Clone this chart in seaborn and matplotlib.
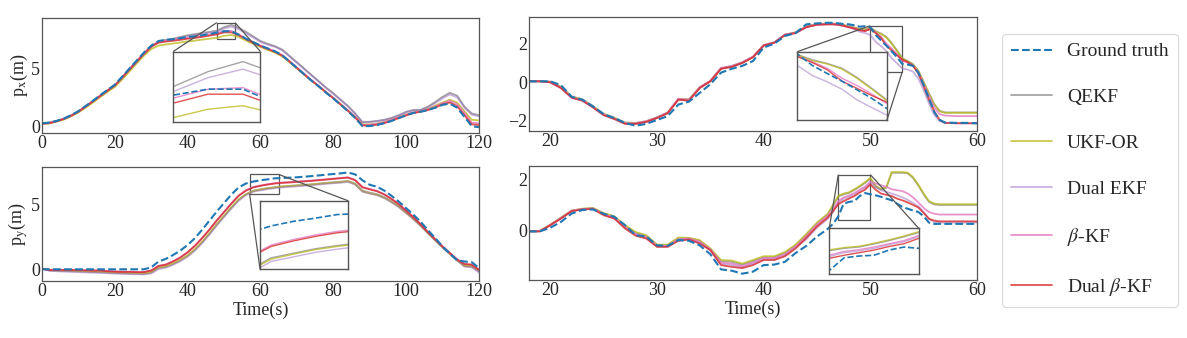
import matplotlib
matplotlib.use("Agg")
import matplotlib.pyplot as plt
import seaborn as sns
from mpl_toolkits.axes_grid1.inset_locator import mark_inset

# ---------------- data ----------------
labels = ["Ground truth", "QEKF", "UKF-OR", "Dual EKF", r"$\beta$-KF", r"Dual $\beta$-KF"]

t_left = list(range(0, 121, 2))
t_right = [18, 19, 20, 21, 22, 23, 24, 25, 26, 27, 28, 29, 30, 31, 32, 33, 34, 35, 36, 37,
           38, 39, 40, 41, 42, 43, 44, 45,
           46, 46.5, 47, 47.5, 48, 48.5, 49, 49.5, 50, 50.5,
           51, 51.5, 52, 52.5, 53, 53.5, 54, 54.5, 55, 55.5,
           56, 56.5, 57, 58, 59, 60]

# top-left : p_x over 0..120 s
px_L_gt = [0.25, 0.30, 0.45, 0.65, 0.95, 1.30, 1.75, 2.20, 2.70, 3.15,
           3.60, 4.30, 5.00, 5.70, 6.40, 7.00, 7.40, 7.50, 7.55, 7.65,
           7.75, 7.80, 7.90, 8.00, 8.13, 8.25, 8.25, 7.95, 7.60, 7.30,
           7.00, 6.75, 6.50, 6.15, 5.60, 5.05, 4.50, 3.95, 3.45, 2.90,
           2.40, 1.85, 1.30, 0.70, 0.00, 0.00, 0.10, 0.25, 0.45, 0.70,
           0.95, 1.15, 1.25, 1.40, 1.60, 1.85, 1.95, 1.60, 0.80, 0.00,
           -0.10]
px_L_qekf = [0.25, 0.30, 0.45, 0.65, 0.93, 1.28, 1.72, 2.18, 2.66, 3.12,
             3.57, 4.25, 4.95, 5.65, 6.33, 6.95, 7.35, 7.50, 7.60, 7.75,
             7.90, 8.00, 8.10, 8.20, 8.30, 8.60, 8.80, 8.55, 8.20, 7.80,
             7.40, 7.15, 6.95, 6.65, 6.10, 5.55, 5.00, 4.45, 3.90, 3.35,
             2.85, 2.30, 1.75, 1.10, 0.35, 0.38, 0.45, 0.55, 0.72, 0.95,
             1.25, 1.40, 1.42, 1.70, 2.10, 2.55, 2.90, 2.65, 1.70, 1.10,
             0.95]
px_L_ukf = [0.20, 0.24, 0.38, 0.57, 0.85, 1.18, 1.60, 2.05, 2.52, 2.97,
            3.40, 4.05, 4.75, 5.45, 6.12, 6.70, 7.00, 7.10, 7.18, 7.27,
            7.37, 7.43, 7.52, 7.60, 7.68, 7.85, 7.92, 7.75, 7.45, 7.15,
            6.88, 6.62, 6.38, 6.05, 5.55, 5.02, 4.48, 3.95, 3.45, 2.93,
            2.43, 1.90, 1.35, 0.80, 0.15, 0.15, 0.22, 0.36, 0.56, 0.80,
            1.02, 1.20, 1.32, 1.50, 1.78, 2.05, 2.30, 2.05, 1.30, 0.55,
            0.50]
px_L_dekf = [0.25, 0.30, 0.44, 0.64, 0.92, 1.27, 1.71, 2.17, 2.65, 3.10,
             3.55, 4.23, 4.93, 5.63, 6.30, 6.92, 7.32, 7.46, 7.55, 7.68,
             7.82, 7.92, 8.02, 8.12, 8.20, 8.48, 8.65, 8.42, 8.08, 7.70,
             7.32, 7.08, 6.88, 6.58, 6.04, 5.50, 4.95, 4.40, 3.86, 3.31,
             2.80, 2.26, 1.71, 1.06, 0.32, 0.35, 0.42, 0.52, 0.68, 0.92,
             1.20, 1.36, 1.40, 1.62, 2.00, 2.42, 2.75, 2.50, 1.60, 1.00,
             0.85]
px_L_bkf = [0.22, 0.27, 0.43, 0.63, 0.92, 1.27, 1.72, 2.17, 2.65, 3.10,
            3.55, 4.24, 4.94, 5.64, 6.33, 6.95, 7.32, 7.42, 7.48, 7.57,
            7.67, 7.73, 7.83, 7.94, 8.07, 8.25, 8.28, 8.00, 7.62, 7.30,
            7.00, 6.75, 6.50, 6.17, 5.65, 5.10, 4.55, 4.00, 3.50, 2.96,
            2.46, 1.90, 1.36, 0.78, 0.10, 0.12, 0.20, 0.34, 0.54, 0.78,
            1.00, 1.18, 1.28, 1.45, 1.70, 2.00, 2.20, 1.90, 1.15, 0.30,
            0.25]
px_L_dbkf = [0.20, 0.25, 0.42, 0.62, 0.90, 1.25, 1.70, 2.15, 2.62, 3.08,
             3.52, 4.20, 4.90, 5.60, 6.28, 6.90, 7.25, 7.35, 7.42, 7.50,
             7.60, 7.67, 7.76, 7.87, 7.97, 8.15, 8.15, 7.90, 7.55, 7.25,
             6.95, 6.70, 6.45, 6.12, 5.60, 5.05, 4.50, 3.97, 3.47, 2.93,
             2.43, 1.88, 1.33, 0.75, 0.05, 0.05, 0.12, 0.26, 0.46, 0.70,
             0.93, 1.13, 1.25, 1.40, 1.62, 1.90, 2.05, 1.72, 0.95, 0.15,
             0.10]

# bottom-left : p_y over 0..120 s
py_L_gt = [0.00, 0.00, 0.00, 0.00, 0.00, 0.00, 0.00, 0.00, 0.00, 0.00,
           0.00, 0.00, 0.00, 0.00, 0.00, 0.15, 0.60, 0.80, 1.10, 1.45,
           1.87, 2.40, 3.05, 3.75, 4.45, 5.10, 5.75, 6.30, 6.60, 6.75,
           6.85, 6.92, 7.00, 7.02, 7.05, 7.08, 7.12, 7.17, 7.22, 7.28,
           7.33, 7.38, 7.45, 7.30, 6.85, 6.50, 6.35, 6.05, 5.65, 5.20,
           4.70, 4.20, 3.65, 3.00, 2.40, 1.75, 1.20, 0.70, 0.60, 0.55,
           0.10]
py_L_qekf = [0.05, -0.08, -0.10, -0.12, -0.14, -0.16, -0.18, -0.20, -0.22, -0.25,
             -0.28, -0.30, -0.32, -0.33, -0.35, -0.25, 0.10, 0.20, 0.42, 0.70,
             1.05, 1.52, 2.10, 2.75, 3.45, 4.10, 4.75, 5.35, 5.78, 6.05,
             6.15, 6.25, 6.32, 6.38, 6.42, 6.46, 6.50, 6.54, 6.60, 6.65,
             6.70, 6.74, 6.80, 6.60, 6.05, 5.90, 5.78, 5.55, 5.22, 4.85,
             4.38, 3.90, 3.38, 2.80, 2.25, 1.70, 1.20, 0.70, 0.25, 0.20,
             -0.15]
py_L_ukf = [0.05, -0.07, -0.09, -0.11, -0.12, -0.14, -0.16, -0.18, -0.20, -0.22,
            -0.25, -0.27, -0.28, -0.30, -0.31, -0.22, 0.12, 0.22, 0.44, 0.72,
            1.07, 1.54, 2.12, 2.77, 3.47, 4.12, 4.77, 5.37, 5.76, 6.02,
            6.13, 6.23, 6.30, 6.36, 6.40, 6.44, 6.48, 6.52, 6.57, 6.62,
            6.66, 6.70, 6.76, 6.55, 6.00, 5.85, 5.73, 5.50, 5.18, 4.80,
            4.33, 3.86, 3.34, 2.77, 2.22, 1.68, 1.18, 0.68, 0.28, 0.25,
            -0.05]
py_L_dekf = [0.05, -0.12, -0.15, -0.18, -0.20, -0.22, -0.24, -0.26, -0.28, -0.30,
             -0.33, -0.35, -0.37, -0.38, -0.40, -0.32, 0.02, 0.12, 0.34, 0.62,
             0.97, 1.44, 2.02, 2.67, 3.37, 4.02, 4.67, 5.27, 5.70, 5.97,
             6.07, 6.17, 6.24, 6.30, 6.34, 6.38, 6.42, 6.46, 6.52, 6.57,
             6.62, 6.66, 6.72, 6.52, 5.97, 5.82, 5.70, 5.47, 5.15, 4.78,
             4.32, 3.85, 3.33, 2.76, 2.21, 1.67, 1.17, 0.67, 0.20, 0.15,
             -0.25]
py_L_bkf = [0.05, -0.04, -0.04, -0.04, -0.04, -0.06, -0.07, -0.08, -0.09, -0.13,
            -0.16, -0.18, -0.18, -0.20, -0.20, -0.08, 0.27, 0.38, 0.63, 0.93,
            1.33, 1.83, 2.43, 3.08, 3.78, 4.43, 5.08, 5.68, 6.08, 6.33,
            6.45, 6.55, 6.63, 6.68, 6.71, 6.75, 6.79, 6.83, 6.88, 6.93,
            6.98, 7.03, 7.08, 6.88, 6.33, 6.18, 6.03, 5.78, 5.43, 5.03,
            4.53, 4.03, 3.48, 2.88, 2.32, 1.77, 1.27, 0.77, 0.42, 0.37,
            -0.02]
py_L_dbkf = [0.05, -0.05, -0.05, -0.05, -0.05, -0.07, -0.08, -0.10, -0.10, -0.15,
             -0.18, -0.20, -0.20, -0.22, -0.22, -0.10, 0.25, 0.35, 0.60, 0.90,
             1.30, 1.80, 2.40, 3.05, 3.75, 4.40, 5.05, 5.65, 6.05, 6.30,
             6.42, 6.52, 6.60, 6.65, 6.68, 6.72, 6.76, 6.80, 6.85, 6.90,
             6.95, 7.00, 7.05, 6.85, 6.30, 6.15, 6.00, 5.75, 5.40, 5.00,
             4.50, 4.00, 3.45, 2.85, 2.30, 1.75, 1.25, 0.75, 0.40, 0.35,
             -0.05]

# top-right : p_x over 18..60 s
px_R_gt = [0.05, 0.05, 0.05, -0.15, -0.75, -0.90, -1.25, -1.65, -1.85, -2.10,
           -2.25, -2.15, -1.95, -1.75, -1.15, -1.00, -0.55, -0.10, 0.50, 0.70,
           0.85, 1.10, 1.80, 2.00, 2.40, 2.55, 3.00, 3.05,
           3.08, 3.08, 3.05, 3.02, 3.00, 2.95, 2.88, 2.90, 2.85, 2.45,
           2.17, 1.90, 1.60, 1.30, 0.95, 0.92, 0.85, 0.50, -0.15, -0.85,
           -1.55, -1.95, -2.08, -2.10, -2.10, -2.12]
px_R_qekf = [0.07, 0.07, 0.04, -0.23, -0.73, -0.88, -1.23, -1.63, -1.83, -2.08,
             -2.10, -2.01, -1.81, -1.56, -0.86, -0.88, -0.26, 0.07, 0.72, 0.84,
             1.04, 1.32, 1.92, 2.07, 2.47, 2.59, 2.90, 3.02,
             3.04, 3.04, 3.02, 2.97, 2.90, 2.84, 2.77, 2.74, 2.83, 2.65,
             2.52, 2.35, 2.03, 1.65, 1.25, 1.10, 0.94, 0.60, 0.02, -0.58,
             -1.13, -1.48, -1.56, -1.56, -1.56, -1.56]
px_R_ukf = [0.05, 0.05, 0.02, -0.25, -0.75, -0.90, -1.25, -1.65, -1.85, -2.10,
            -2.12, -2.03, -1.83, -1.58, -0.88, -0.90, -0.28, 0.05, 0.70, 0.82,
            1.02, 1.30, 1.90, 2.05, 2.45, 2.57, 2.88, 3.00,
            3.02, 3.02, 3.00, 2.95, 2.88, 2.82, 2.75, 2.72, 2.81, 2.62,
            2.50, 2.32, 2.00, 1.62, 1.22, 1.08, 0.92, 0.58, 0.00, -0.60,
            -1.15, -1.50, -1.58, -1.58, -1.58, -1.58]
px_R_dekf = [0.05, 0.05, 0.00, -0.30, -0.80, -0.95, -1.30, -1.70, -1.90, -2.15,
             -2.15, -2.05, -1.85, -1.60, -0.90, -0.95, -0.30, 0.05, 0.70, 0.80,
             1.00, 1.30, 1.90, 2.05, 2.45, 2.55, 2.85, 2.98,
             3.00, 3.00, 2.98, 2.92, 2.85, 2.75, 2.62, 2.55, 2.45, 2.10,
             1.88, 1.62, 1.25, 0.98, 0.72, 0.66, 0.55, 0.20, -0.40, -1.10,
             -1.70, -2.00, -2.10, -2.12, -2.12, -2.12]
px_R_bkf = [0.05, 0.05, 0.00, -0.28, -0.78, -0.93, -1.28, -1.68, -1.88, -2.12,
            -2.12, -2.02, -1.82, -1.57, -0.85, -0.92, -0.26, 0.08, 0.75, 0.84,
            1.04, 1.33, 1.93, 2.07, 2.47, 2.57, 2.87, 2.99,
            3.01, 3.01, 2.98, 2.92, 2.85, 2.78, 2.70, 2.66, 2.77, 2.58,
            2.35, 2.00, 1.75, 1.45, 1.12, 1.02, 0.88, 0.52, -0.10, -0.70,
            -1.30, -1.65, -1.72, -1.75, -1.75, -1.75]
px_R_dbkf = [0.05, 0.05, 0.00, -0.30, -0.80, -0.95, -1.30, -1.70, -1.90, -2.15,
             -2.15, -2.05, -1.85, -1.60, -0.90, -0.95, -0.30, 0.05, 0.70, 0.80,
             1.00, 1.30, 1.90, 2.05, 2.45, 2.55, 2.85, 2.98,
             3.00, 3.00, 2.98, 2.92, 2.85, 2.78, 2.70, 2.65, 2.76, 2.55,
             2.30, 1.90, 1.65, 1.40, 1.17, 1.05, 0.85, 0.45, -0.20, -0.90,
             -1.50, -1.95, -2.10, -2.12, -2.12, -2.12]

# bottom-right : p_y over 18..60 s
py_R_gt = [-0.05, -0.05, 0.10, 0.33, 0.66, 0.80, 0.82, 0.65, 0.53, 0.20,
           -0.20, -0.25, -0.60, -0.62, -0.39, -0.42, -0.60, -0.95, -1.55, -1.60,
           -1.72, -1.64, -1.38, -1.36, -1.25, -0.90, -0.62, -0.25,
           0.05, 0.25, 0.55, 1.05, 1.12, 1.15, 1.35, 1.47, 1.42, 1.38,
           1.32, 1.25, 1.18, 1.05, 0.92, 0.85, 0.78, 0.72, 0.55, 0.30,
           0.25, 0.25, 0.25, 0.25, 0.25, 0.25]
py_R_qekf = [-0.03, -0.03, 0.21, 0.49, 0.77, 0.84, 0.87, 0.66, 0.53, 0.17,
             -0.10, -0.23, -0.60, -0.60, -0.32, -0.32, -0.42, -0.75, -1.22, -1.25,
             -1.36, -1.22, -1.07, -1.07, -0.90, -0.60, -0.18, 0.27,
             0.62, 0.97, 1.33, 1.42, 1.47, 1.59, 1.72, 1.87, 2.04, 1.72,
             1.61, 1.68, 2.27, 2.27, 2.27, 2.25, 2.07, 1.77, 1.42, 1.12,
             1.02, 1.00, 1.00, 1.00, 1.00, 1.00]
py_R_ukf = [-0.03, -0.03, 0.22, 0.50, 0.78, 0.85, 0.88, 0.68, 0.55, 0.20,
            -0.07, -0.20, -0.57, -0.57, -0.29, -0.30, -0.39, -0.72, -1.18, -1.20,
            -1.32, -1.18, -1.03, -1.03, -0.86, -0.57, -0.15, 0.30,
            0.65, 1.00, 1.36, 1.45, 1.50, 1.62, 1.75, 1.90, 2.07, 1.75,
            1.64, 1.70, 2.30, 2.30, 2.30, 2.28, 2.10, 1.80, 1.45, 1.15,
            1.05, 1.03, 1.03, 1.03, 1.03, 1.03]
py_R_dekf = [-0.04, -0.04, 0.20, 0.47, 0.76, 0.83, 0.85, 0.62, 0.48, 0.10,
             -0.18, -0.30, -0.64, -0.64, -0.39, -0.35, -0.50, -0.78, -1.32, -1.38,
             -1.46, -1.32, -1.14, -1.14, -0.99, -0.68, -0.36, 0.10,
             0.45, 0.72, 1.10, 1.25, 1.32, 1.42, 1.56, 1.68, 1.88, 1.72,
             1.58, 1.52, 1.45, 1.38, 1.30, 1.20, 1.08, 0.95, 0.72, 0.45,
             0.32, 0.30, 0.30, 0.30, 0.30, 0.30]
py_R_bkf = [-0.04, -0.04, 0.21, 0.48, 0.77, 0.84, 0.86, 0.63, 0.50, 0.12,
            -0.15, -0.27, -0.62, -0.62, -0.36, -0.33, -0.46, -0.76, -1.28, -1.32,
            -1.42, -1.28, -1.10, -1.10, -0.95, -0.65, -0.24, 0.22,
            0.57, 0.85, 1.15, 1.30, 1.37, 1.47, 1.60, 1.72, 1.92, 1.85,
            1.78, 1.72, 1.62, 1.58, 1.55, 1.45, 1.30, 1.10, 0.88, 0.72,
            0.65, 0.62, 0.62, 0.62, 0.62, 0.62]
py_R_dbkf = [-0.05, -0.05, 0.20, 0.46, 0.75, 0.82, 0.84, 0.59, 0.46, 0.07,
             -0.22, -0.33, -0.66, -0.66, -0.42, -0.37, -0.53, -0.79, -1.38, -1.45,
             -1.50, -1.38, -1.18, -1.18, -1.03, -0.72, -0.30, 0.15,
             0.50, 0.75, 1.03, 1.15, 1.25, 1.35, 1.49, 1.60, 1.81, 1.60,
             1.45, 1.40, 1.35, 1.25, 1.18, 1.10, 1.00, 0.90, 0.68, 0.45,
             0.38, 0.35, 0.35, 0.35, 0.35, 0.35]

# ---------------- style ----------------
sns.set_theme(style="white")
plt.rcParams["font.family"] = ["Liberation Serif", "DejaVu Serif"]
plt.rcParams["mathtext.fontset"] = "stix"
plt.rcParams["axes.unicode_minus"] = True

colors = {
    labels[0]: "#1f77b4", labels[1]: "#7f7f7f", labels[2]: "#bcbd22",
    labels[3]: "#9467bd", labels[4]: "#e377c2", labels[5]: "#d62728",
}
alphas = {labels[0]: 1.0, labels[1]: 0.7, labels[2]: 0.8,
          labels[3]: 0.5, labels[4]: 0.8, labels[5]: 0.8}
lstyles = {lab: "-" for lab in labels}
lstyles[labels[0]] = "--"
draw_order = [labels[1], labels[2], labels[3], labels[4], labels[5], labels[0]]

SPINE = "#555555"
FS = 13


def draw(ax, t, series, lw=1.3):
    for lab in draw_order:
        sns.lineplot(x=t, y=series[lab], ax=ax, color=colors[lab],
                     alpha=alphas[lab], linestyle=lstyles[lab],
                     linewidth=lw + (0.2 if lab == labels[0] else 0.0),
                     label=lab, legend=False)


def style_axes(ax):
    ax.set_facecolor("white")
    for s in ax.spines.values():
        s.set_visible(True)
        s.set_color(SPINE)
        s.set_linewidth(0.9)
    ax.tick_params(axis="both", labelsize=FS, length=0, width=0.8,
                   color=SPINE, direction="out", pad=1.5)
    ax.set_xlabel("")
    ax.set_ylabel("")


def add_inset(ax, t, series, bounds, xlim, ylim, loc1, loc2):
    axins = ax.inset_axes(bounds)
    draw(axins, t, series, lw=1.0)
    axins.set_xlim(*xlim)
    axins.set_ylim(*ylim)
    axins.set_xticks([])
    axins.set_yticks([])
    axins.set_xlabel("")
    axins.set_ylabel("")
    axins.set_facecolor("white")
    for s in axins.spines.values():
        s.set_visible(True)
        s.set_color(SPINE)
        s.set_linewidth(1.0)
    mark_inset(ax, axins, loc1=loc1, loc2=loc2, fc="none", ec=SPINE, lw=0.9)
    return axins


def build(vals):
    return dict(zip(labels, vals))


px_L = build([px_L_gt, px_L_qekf, px_L_ukf, px_L_dekf, px_L_bkf, px_L_dbkf])
py_L = build([py_L_gt, py_L_qekf, py_L_ukf, py_L_dekf, py_L_bkf, py_L_dbkf])
px_R = build([px_R_gt, px_R_qekf, px_R_ukf, px_R_dekf, px_R_bkf, px_R_dbkf])
py_R = build([py_R_gt, py_R_qekf, py_R_ukf, py_R_dekf, py_R_bkf, py_R_dbkf])

W, H = 1187, 338
fig = plt.figure(figsize=(W / 100, H / 100), dpi=100)


def axes_px(x0, y0, x1, y1):
    return fig.add_axes([x0 / W, 1 - y1 / H, (x1 - x0) / W, (y1 - y0) / H])


ax_tl = axes_px(42, 18, 479, 133)
ax_bl = axes_px(42, 167, 479, 281)
ax_tr = axes_px(529, 17, 977, 131)
ax_br = axes_px(529, 166, 977, 280)

# top-left
draw(ax_tl, t_left, px_L)
style_axes(ax_tl)
ax_tl.set_xlim(0, 120)
ax_tl.set_ylim(-0.6, 9.4)
ax_tl.set_xticks([0, 20, 40, 60, 80, 100, 120])
ax_tl.set_yticks([0, 5])
ax_tl.set_ylabel(r"p$_{\mathrm{x}}$(m)", fontsize=FS, labelpad=1)
add_inset(ax_tl, t_left, px_L, [0.30, 0.098, 0.20, 0.61], (48, 53), (7.6, 9.0), 1, 2)

# bottom-left
draw(ax_bl, t_left, py_L)
style_axes(ax_bl)
ax_bl.set_xlim(0, 120)
ax_bl.set_ylim(-0.9, 7.87)
ax_bl.set_xticks([0, 20, 40, 60, 80, 100, 120])
ax_bl.set_yticks([0, 5])
ax_bl.set_ylabel(r"p$_{\mathrm{y}}$(m)", fontsize=FS, labelpad=1)
ax_bl.set_xlabel("Time(s)", fontsize=FS, labelpad=1)
add_inset(ax_bl, t_left, py_L, [0.499, 0.103, 0.202, 0.60], (57, 65), (5.8, 7.3), 1, 3)

# top-right
draw(ax_tr, t_right, px_R)
style_axes(ax_tr)
ax_tr.set_xlim(18, 60)
ax_tr.set_ylim(-2.52, 3.38)
ax_tr.set_xticks([20, 30, 40, 50, 60])
ax_tr.set_yticks([-2, 0, 2])
add_inset(ax_tr, t_right, px_R, [0.599, 0.096, 0.20, 0.60], (50, 53), (0.55, 2.93), 2, 4)

# bottom-right
draw(ax_br, t_right, py_R)
style_axes(ax_br)
ax_br.set_xlim(18, 60)
ax_br.set_ylim(-1.97, 2.54)
ax_br.set_xticks([20, 30, 40, 50, 60])
ax_br.set_yticks([0, 2])
ax_br.set_xlabel("Time(s)", fontsize=FS, labelpad=1)
add_inset(ax_br, t_right, py_R, [0.67, 0.053, 0.20, 0.40], (47, 50), (0.42, 2.2), 2, 1)

# legend
handles, labs = ax_tl.get_legend_handles_labels()
hmap = dict(zip(labs, handles))
leg = fig.legend([hmap[l] for l in labels], labels, loc="upper left",
                 bbox_to_anchor=(1002 / W, 1 - 34 / H), borderaxespad=0.0,
                 fontsize=14, labelspacing=1.45, handlelength=2.1,
                 handletextpad=0.8, borderpad=0.45, frameon=True, fancybox=True)
leg.get_frame().set_edgecolor("#d0d0d0")
leg.get_frame().set_linewidth(0.8)

fig.savefig("out.png", dpi=100, facecolor="white")
